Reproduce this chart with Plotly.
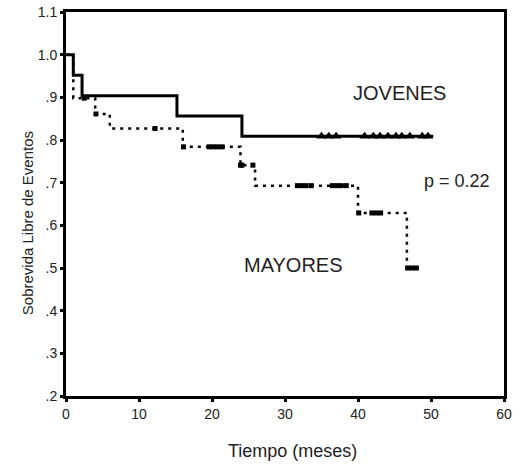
import plotly.graph_objects as go

# Jovenes (young) Kaplan-Meier step curve
jov_t = [0, 1.0, 2.2, 15.2, 24.1, 50.3]
jov_s = [1.0, 0.952, 0.904, 0.856, 0.809, 0.809]
jov_cens_t = [35.0, 36.0, 37.0, 40.9, 42.1, 43.0, 44.1, 45.2, 46.0, 47.1, 48.8, 49.6]
jov_cens_s = [0.809] * len(jov_cens_t)

# Mayores (older) Kaplan-Meier step curve
may_t = [0, 1.0, 4.0, 6.0, 16.0, 23.9, 25.9, 40.0, 46.7, 48.4]
may_s = [1.0, 0.898, 0.861, 0.827, 0.784, 0.741, 0.693, 0.629, 0.5, 0.5]
may_cens_t = [2.5, 4.1, 12.2, 16.1, 19.6, 20.2, 20.8, 21.4, 23.9, 24.1, 25.6,
              31.7, 32.3, 32.9, 33.6, 36.5, 37.1, 37.7, 38.4, 40.1,
              41.9, 42.5, 43.1, 46.8, 47.4, 48.0]
may_cens_s = [0.898, 0.861, 0.827, 0.784, 0.784, 0.784, 0.784, 0.784, 0.741, 0.741, 0.741,
              0.693, 0.693, 0.693, 0.693, 0.693, 0.693, 0.693, 0.693, 0.629,
              0.629, 0.629, 0.629, 0.5, 0.5, 0.5]

x_ticks = [0, 10, 20, 30, 40, 50, 60]
y_ticks = [0.2, 0.3, 0.4, 0.5, 0.6, 0.7, 0.8, 0.9, 1.0, 1.1]
y_tick_labels = [".2", ".3", ".4", ".5", ".6", ".7", ".8", ".9", "1.0", "1.1"]

fig = go.Figure()
fig.add_trace(go.Scatter(x=may_t, y=may_s, mode="lines", line_shape="hv",
                         line=dict(color="black", width=2.5, dash="3px,5px"),
                         showlegend=False, hoverinfo="skip"))
fig.add_trace(go.Scatter(x=may_cens_t, y=may_cens_s, mode="markers",
                         marker=dict(symbol="square", size=5, color="black"),
                         showlegend=False))
fig.add_trace(go.Scatter(x=jov_t, y=jov_s, mode="lines", line_shape="hv",
                         line=dict(color="black", width=3),
                         showlegend=False, hoverinfo="skip"))
fig.add_trace(go.Scatter(x=jov_cens_t, y=jov_cens_s, mode="markers",
                         marker=dict(symbol="triangle-up", size=9, color="black"),
                         showlegend=False))

font = "Liberation Sans, Arial, sans-serif"
fig.add_annotation(x=45.7, y=0.91, text="JOVENES", showarrow=False,
                   font=dict(family=font, size=20, color="#222"))
fig.add_annotation(x=53.5, y=0.704, text="p = 0.22", showarrow=False,
                   font=dict(family=font, size=18, color="#222"))
fig.add_annotation(x=31.1, y=0.507, text="MAYORES", showarrow=False,
                   font=dict(family=font, size=20, color="#222"))
fig.add_annotation(xref="paper", yref="paper", x=-0.089, y=0.45,
                   xanchor="center", yanchor="middle",
                   text="Sobrevida Libre de Eventos", textangle=-90, showarrow=False,
                   font=dict(family=font, size=15, color="#222"))
fig.add_annotation(xref="paper", yref="paper", x=0.518, y=-0.143,
                   xanchor="center", yanchor="middle",
                   text="Tiempo (meses)", showarrow=False,
                   font=dict(family=font, size=18, color="#222"))

fig.update_layout(
    width=520, height=466,
    margin=dict(l=66, r=16, t=12, b=70),
    paper_bgcolor="white", plot_bgcolor="white",
    font=dict(family=font, size=14, color="#222"),
    xaxis=dict(range=[0, 60], tickvals=x_ticks, ticks="outside", ticklen=3,
               tickwidth=3, tickcolor="black", showgrid=False, zeroline=False,
               showline=True, linecolor="black", linewidth=3, mirror=True,
               automargin=False),
    yaxis=dict(range=[0.2, 1.1], tickvals=y_ticks, ticktext=y_tick_labels,
               ticks="outside", ticklen=3, tickwidth=3, tickcolor="black",
               showgrid=False, zeroline=False, showline=True, linecolor="black",
               linewidth=3, mirror=True, automargin=False),
)

fig.write_html("out.html", config={"displayModeBar": False},
               post_script="document.body.style.margin='0';document.body.style.overflow='hidden';")
